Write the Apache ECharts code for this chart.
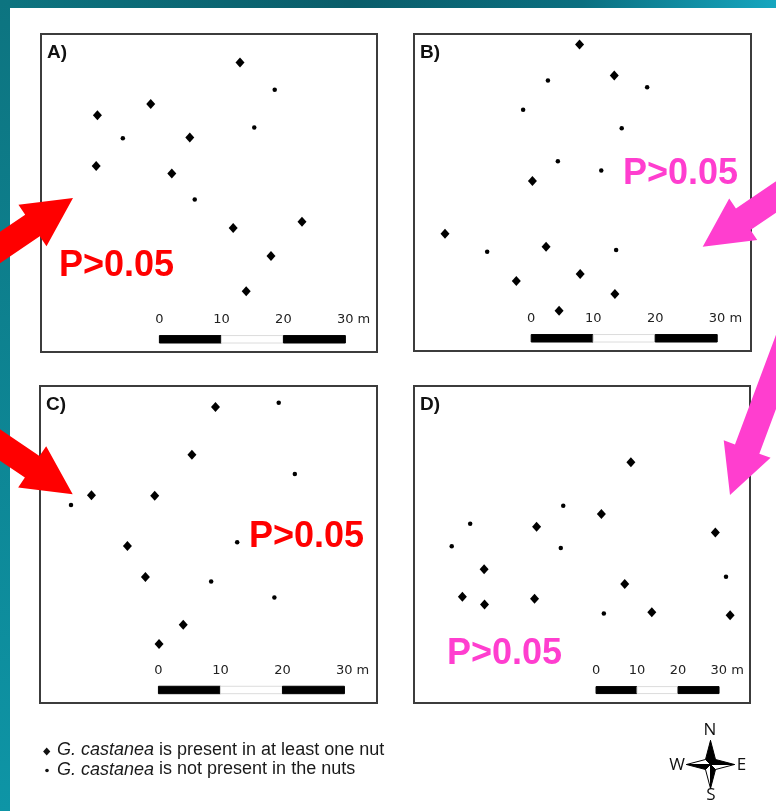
<!DOCTYPE html>
<html>
<head>
<meta charset="utf-8">
<style>
  html, body { margin: 0; padding: 0; background: #fff; }
  #chart { width: 776px; height: 811px; }
</style>
<script src="https://cdn.jsdelivr.net/npm/echarts@6/dist/echarts.min.js"></script>
</head>
<body>
<div id="chart"></div>
<script>
// map coordinates in metres, measured from the bottom-left corner of each plot frame
const presentA = [[32.1, 46.7], [17.7, 40.0], [9.1, 38.2], [24.0, 34.6], [8.9, 30.0], [21.1, 28.8], [42.1, 21.0], [31.0, 20.0], [37.1, 15.5], [33.1, 9.8]];
const absentA = [[37.7, 42.3], [34.4, 36.2], [13.2, 34.5], [24.8, 24.6]];

const presentB = [[26.7, 49.4], [32.3, 44.4], [19.1, 27.4], [5.0, 18.9], [21.3, 16.8], [26.8, 12.4], [16.5, 11.3], [32.4, 9.2], [23.4, 6.5]];
const absentB = [[21.6, 43.6], [37.6, 42.5], [17.6, 38.9], [33.5, 35.9], [23.2, 30.6], [30.2, 29.1], [11.8, 16.0], [32.6, 16.3]];

const presentC = [[28.3, 47.7], [24.5, 40.0], [8.3, 33.5], [18.5, 33.4], [14.1, 25.3], [17.0, 20.3], [23.1, 12.6], [19.2, 9.5]];
const absentC = [[38.5, 48.4], [41.1, 36.9], [5.0, 31.9], [31.8, 25.9], [27.6, 19.6], [37.8, 17.0]];

const presentD = [[52.9, 58.7], [45.7, 46.1], [29.9, 43.0], [73.5, 41.6], [17.1, 32.6], [51.4, 29.0], [11.8, 25.9], [29.4, 25.4], [17.2, 24.0], [58.0, 22.1], [77.1, 21.4]];
const absentD = [[36.4, 48.1], [13.7, 43.7], [9.2, 38.2], [35.8, 37.8], [76.1, 30.8], [46.3, 21.8]];

const panelNames = ['A)', 'B)', 'C)', 'D)'];
const pText = 'P>0.05';
const scaleTicks = [0, 10, 20, 30];
const scaleLabels = ['0', '10', '20', '30 m'];
const legendPresent = ' is present in at least one nut';
const legendAbsent = ' is not present in the nuts';
const species = 'G. castanea';

const present = [presentA, presentB, presentC, presentD];
const absent = [absentA, absentB, absentC, absentD];

const RED = '#ff0000';
const PINK = '#ff3ecf';

const panels = [
  { grid: { left: 41, top: 34, width: 336, height: 318 }, xMax: 54.2, yMax: 51.3, bar: [19.1, 1.45, 2.65], tag: [47, 53], p: [59, 266.5, RED] },
  { grid: { left: 414, top: 34, width: 337, height: 317 }, xMax: 54.35, yMax: 51.1, bar: [18.9, 1.45, 2.65], tag: [420, 52.5], p: [623, 174.5, PINK] },
  { grid: { left: 40, top: 386, width: 337, height: 317 }, xMax: 54.35, yMax: 51.1, bar: [19.1, 1.5, 2.7], tag: [46, 404.5], p: [249, 537.5, RED] },
  { grid: { left: 414, top: 386, width: 336, height: 317 }, xMax: 81.95, yMax: 77.3, bar: [44.4, 2.3, 4.0], tag: [420, 405], p: [447, 654.5, PINK] }
];

function scaleBar (params, api) {
  const x0 = api.value(0);
  const yb = api.value(1);
  const yt = api.value(2);
  const children = [];
  for (let i = 0; i < 3; i++) {
    const a = api.coord([x0 + scaleTicks[i], yt]);
    const b = api.coord([x0 + scaleTicks[i + 1], yb]);
    children.push({
      type: 'rect',
      shape: { x: a[0], y: a[1], width: b[0] - a[0], height: b[1] - a[1] },
      style: { fill: i === 1 ? '#fff' : '#000', stroke: i === 1 ? '#dcdcdc' : '#000', lineWidth: 1 }
    });
  }
  scaleTicks.forEach((t, i) => {
    const p = api.coord([x0 + t, yt]);
    const last = i === scaleLabels.length - 1;
    children.push({
      type: 'text',
      style: {
        text: scaleLabels[i],
        x: last ? p[0] - 8.5 : p[0],
        y: p[1] - 16,
        textAlign: last ? 'left' : 'center',
        textVerticalAlign: 'middle',
        font: '13px "DejaVu Sans"',
        fill: '#222'
      }
    });
  });
  return { type: 'group', children: children };
}

function arrow (tip, dir, color) {
  const headLen = 49, headHalf = 25, shaftHalf = 13, shaftLen = 200;
  const px = -dir[1], py = dir[0];
  const bx = tip[0] - headLen * dir[0], by = tip[1] - headLen * dir[1];
  const tx = bx - shaftLen * dir[0], ty = by - shaftLen * dir[1];
  return {
    type: 'polygon',
    z: 100,
    shape: {
      points: [
        tip,
        [bx + headHalf * px, by + headHalf * py],
        [bx + shaftHalf * px, by + shaftHalf * py],
        [tx + shaftHalf * px, ty + shaftHalf * py],
        [tx - shaftHalf * px, ty - shaftHalf * py],
        [bx - shaftHalf * px, by - shaftHalf * py],
        [bx - headHalf * px, by - headHalf * py]
      ]
    },
    style: { fill: color }
  };
}

const grids = [], xAxes = [], yAxes = [], series = [], graphics = [];

// teal slide background edges
graphics.push({
  type: 'rect', z: 0,
  shape: { x: 0, y: 0, width: 776, height: 8 },
  style: { fill: new echarts.graphic.LinearGradient(0, 0, 1, 0, [
    { offset: 0, color: '#0d7480' }, { offset: 0.45, color: '#0a5d6a' },
    { offset: 0.75, color: '#0b6f80' }, { offset: 1, color: '#16a6bf' }]) }
});
graphics.push({
  type: 'rect', z: 0,
  shape: { x: 0, y: 0, width: 10, height: 811 },
  style: { fill: new echarts.graphic.LinearGradient(0, 0, 0, 1, [
    { offset: 0, color: '#0d7480' }, { offset: 1, color: '#0e95a6' }]) }
});

panels.forEach((pn, i) => {
  grids.push(Object.assign({ show: true, borderColor: '#3c3c3c', borderWidth: 2, backgroundColor: '#fff' }, pn.grid));
  xAxes.push({ type: 'value', gridIndex: i, min: 0, max: pn.xMax, show: false });
  yAxes.push({ type: 'value', gridIndex: i, min: 0, max: pn.yMax, show: false });
  series.push({
    type: 'scatter', name: 'present', xAxisIndex: i, yAxisIndex: i,
    symbol: 'diamond', symbolSize: [9, 10], itemStyle: { color: '#000', opacity: 1 },
    data: present[i]
  });
  series.push({
    type: 'scatter', name: 'absent', xAxisIndex: i, yAxisIndex: i,
    symbol: 'circle', symbolSize: 4.5, itemStyle: { color: '#000', opacity: 1 },
    data: absent[i]
  });
  series.push({
    type: 'custom', xAxisIndex: i, yAxisIndex: i, renderItem: scaleBar,
    data: [pn.bar], silent: true
  });
  graphics.push({
    type: 'text', z: 50,
    style: { text: panelNames[i], x: pn.tag[0], y: pn.tag[1], textVerticalAlign: 'middle',
      font: 'bold 19px "Liberation Sans"', fill: '#111' }
  });
  graphics.push({
    type: 'text', z: 50,
    style: { text: pText, x: pn.p[0], y: pn.p[1], textVerticalAlign: 'middle',
      font: 'bold 36px "Liberation Sans"', fill: pn.p[2] }
  });
});

// arrows
graphics.push(arrow([73, 198], [0.827, -0.561], RED));
graphics.push(arrow([72.7, 494.3], [0.827, 0.561], RED));
graphics.push(arrow([702.7, 246.7], [-0.827, 0.561], PINK));
graphics.push(arrow([730, 495], [-0.35, 0.937], PINK));

// legend
graphics.push({ type: 'polygon', shape: { points: [[46.7, 747.5], [50.3, 751.5], [46.7, 755.5], [43.1, 751.5]] }, style: { fill: '#111' } });
graphics.push({ type: 'circle', shape: { cx: 47, cy: 770.5, r: 1.8 }, style: { fill: '#111' } });
[[legendPresent, 750], [legendAbsent, 769.5]].forEach(l => {
  graphics.push({
    type: 'text',
    style: {
      text: '{i|' + species + '}' + l[0], x: 57, y: l[1], textVerticalAlign: 'middle',
      font: '18px "Liberation Sans"', fill: '#1a1a1a',
      rich: { i: { fontStyle: 'italic', fontSize: 18, fontFamily: 'Liberation Sans', fill: '#1a1a1a' } }
    }
  });
});

// compass
const cx = 710.5, cy = 764.5, arm = 24, w = 5;
const tips = { N: [cx, cy - arm], E: [cx + arm, cy], S: [cx, cy + arm], W: [cx - arm, cy] };
const side = { NE: [cx + w, cy - w], SE: [cx + w, cy + w], SW: [cx - w, cy + w], NW: [cx - w, cy - w] };
[
  [tips.N, side.NW, '#000'], [tips.N, side.NE, '#000'],
  [tips.E, side.NE, '#000'], [tips.E, side.SE, '#fff'],
  [tips.S, side.SE, '#000'], [tips.S, side.SW, '#fff'],
  [tips.W, side.SW, '#000'], [tips.W, side.NW, '#fff']
].forEach(t => {
  graphics.push({ type: 'polygon', shape: { points: [[cx, cy], t[0], t[1]] }, style: { fill: t[2], stroke: '#000', lineWidth: 1 } });
});
[['N', 710, 730], ['W', 677, 765], ['E', 741.5, 765.5], ['S', 711, 795]].forEach(c => {
  graphics.push({ type: 'text', style: { text: c[0], x: c[1], y: c[2], textAlign: 'center', textVerticalAlign: 'middle', font: '17px "Open Sans"', fill: '#111' } });
});

const chart = echarts.init(document.getElementById('chart'), null, { renderer: 'canvas' });
chart.setOption({
  animation: false,
  backgroundColor: '#fff',
  grid: grids,
  xAxis: xAxes,
  yAxis: yAxes,
  series: series,
  graphic: graphics
});
</script>
</body>
</html>
